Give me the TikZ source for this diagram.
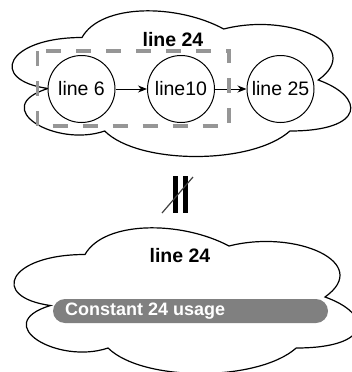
\documentclass[tikz,border=0pt]{standalone}
\usepackage{fontspec}
\setmainfont{Liberation Sans}
\usetikzlibrary{arrows.meta}

\definecolor{dashgray}{RGB}{150,150,150}
\definecolor{bargray}{RGB}{128,128,128}

\tikzset{
  cloudline/.style={draw=black, line width=1.2pt, fill=white},
  linecircle/.style={circle, draw=black, line width=1pt, fill=white,
    minimum size=67pt, inner sep=0pt, font=\fontsize{19.5}{20}\selectfont},
  titletext/.style={font=\bfseries\fontsize{19.5}{20}\selectfont, inner sep=0pt},
  flow/.style={draw=black, line width=1pt, -{Stealth[length=9pt,width=7pt]}},
  groupbox/.style={draw=dashgray, line width=3.5pt, dash pattern=on 15pt off 15pt},
  usagebar/.style={fill=bargray, rounded corners=12pt},
  usagetext/.style={text=white, font=\bfseries\fontsize{18}{18}\selectfont,
    inner sep=0pt, anchor=west},
  neqbar/.style={fill=black},
  neqslash/.style={draw=black!75, line width=1.2pt},
}

% cloud outline inside the box (x0,y0) of width w and height h
\newcommand{\cloudat}[4]{%
  \begin{scope}[shift={(#1,#2)}, xscale=#3, yscale=#4]
    \path[cloudline] (0.25,0.25)
      .. controls (0.05,0.25) and (0,0.5) .. (0.16,0.55)
      .. controls (0,0.66) and (0.18,0.9) .. (0.31,0.8)
      .. controls (0.4,1) and (0.7,1) .. (0.8,0.8)
      .. controls (1,0.8) and (1,0.6) .. (0.875,0.5)
      .. controls (1,0.3) and (0.8,0.1) .. (0.625,0.2)
      .. controls (0.5,0.05) and (0.3,0.05) .. (0.25,0.25) -- cycle;
  \end{scope}}

\begin{document}
\begin{tikzpicture}[x=1pt, y=-1pt]
  \useasboundingbox (0,0) rectangle (351,372);

  % upper cloud with the call chain
  \cloudat{-12.5}{-5}{378}{170}
  \node[titletext] (title1) at (173,40) {line 24};

  \node[linecircle] (l6)  at (81.5,89)  {line 6};
  \node[linecircle] (l10) at (181,89)   {line10};
  \node[linecircle] (l25) at (280.5,89) {line 25};

  \draw[flow] (l6) -- (l10);
  \draw[flow] (l10) -- (l25);

  \draw[groupbox] (37.5,51) rectangle (229,126);

  % not-equal sign
  \fill[neqbar] (172.7,176) rectangle (177.5,213);
  \fill[neqbar] (183.2,176) rectangle (188,213);
  \draw[neqslash] (162,213) -- (193,177);

  % lower cloud with the constant usage
  \cloudat{-11}{212}{384}{170}
  \node[titletext] (title2) at (180,256) {line 24};

  \path[usagebar] (53,299) rectangle (328,323);
  \node[usagetext] (usage) at (65,311) {Constant 24 usage};
\end{tikzpicture}
\end{document}
